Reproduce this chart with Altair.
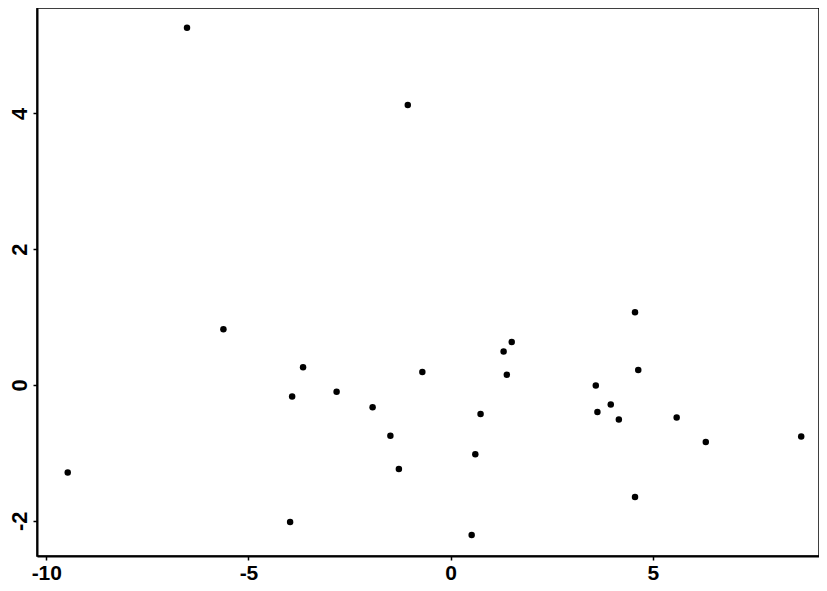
import pandas as pd
import altair as alt

# values
x_vals = [-6.52, -1.06, -5.62, -9.47, -3.65, -3.92, -2.82, -1.93, -0.70, -1.49,
          -1.28, -3.97, 1.51, 1.31, 1.39, 0.74, 0.61, 0.52, 4.56, 4.64,
          3.59, 3.96, 3.63, 4.16, 5.59, 6.31, 8.67, 4.56]
y_vals = [5.26, 4.12, 0.82, -1.29, 0.26, -0.17, -0.10, -0.33, 0.19, -0.75,
          -1.24, -2.02, 0.63, 0.49, 0.15, -0.43, -1.02, -2.21, 1.07, 0.22,
          -0.01, -0.29, -0.40, -0.51, -0.48, -0.84, -0.76, -1.65]
x_ticks = [-10, -5, 0, 5]
y_ticks = [-2, 0, 2, 4]

df = pd.DataFrame({"x": x_vals, "y": y_vals})

chart = (
    alt.Chart(df)
    .mark_circle(size=42, color="black", opacity=1)
    .encode(
        x=alt.X("x:Q", scale=alt.Scale(domain=[-10.23, 9.11], nice=False, zero=False)).axis(
            title=None,
            values=x_ticks,
            grid=False,
            tickSize=4,
            tickWidth=1.5,
            labelPadding=2,
            labelBaseline="top",
            labelFontSize=21,
            labelExpr="'' + datum.value",
        ),
        y=alt.Y("y:Q", scale=alt.Scale(domain=[-2.52, 5.55], nice=False, zero=False)).axis(
            title=None,
            values=y_ticks,
            grid=False,
            tickSize=4,
            tickWidth=1.5,
            labelAngle=270,
            labelAlign="center",
            labelBaseline="bottom",
            labelPadding=2,
            labelFontSize=22,
            labelExpr="'' + datum.value",
        ),
    )
    .properties(
        width=782,
        height=548,
        autosize=alt.AutoSizeParams(type="none"),
        padding={"left": 29, "top": 0, "right": 0, "bottom": 27},
    )
    .configure_axis(
        domainColor="black",
        domainWidth=2,
        tickColor="black",
        labelColor="black",
        labelFont="Liberation Sans",
        labelFontWeight="bold",
    )
    .configure_view(stroke="black", strokeWidth=1.5)
)

chart.save("out.html", embed_options={"renderer": "svg", "actions": False})
